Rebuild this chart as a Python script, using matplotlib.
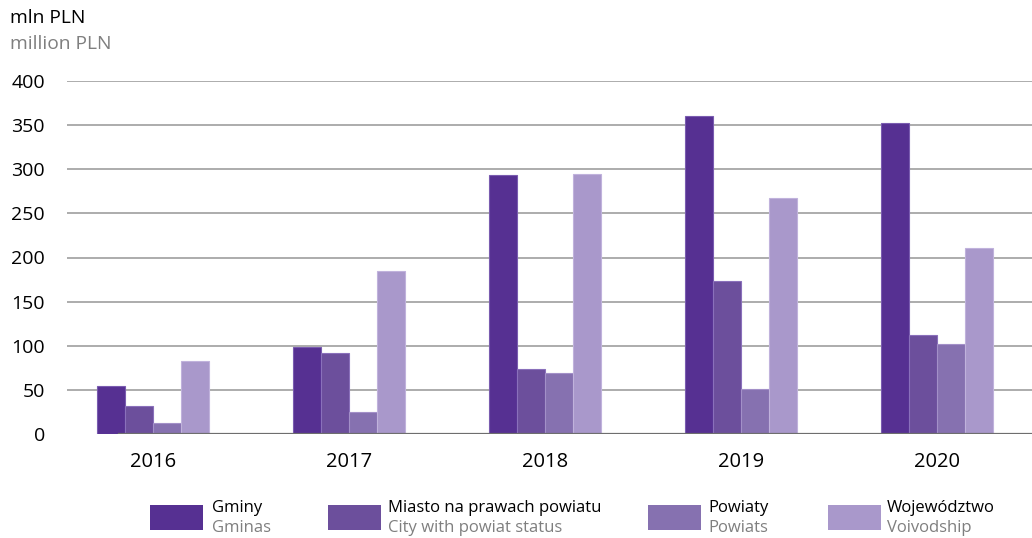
import matplotlib
matplotlib.use("Agg")
import matplotlib.pyplot as plt
from matplotlib.patches import Rectangle
import numpy as np

years = ["2016", "2017", "2018", "2019", "2020"]
series_pl = ["Gminy", "Miasto na prawach powiatu", "Powiaty", "Województwo"]
series_en = ["Gminas", "City with powiat status", "Powiats", "Voivodship"]
gminy = [54, 99, 293, 360, 352]
miasto = [32, 92, 74, 173, 112]
powiaty = [13, 25, 69, 51, 102]
wojewodztwo = [83, 185, 295, 267, 211]
yticks = [0, 50, 100, 150, 200, 250, 300, 350, 400]

colors = ["#563092", "#6c4f9c", "#8671b0", "#a998cb"]
edges = ["#7a5cb0", "#8a70bb", "#a390c8", "#c0b2dc"]

plt.rcParams['font.family'] = ['Open Sans', 'DejaVu Sans']
W, H = 1032, 538
fig = plt.figure(figsize=(W / 100, H / 100), dpi=100)
ax = fig.add_axes([67 / W, 1 - 434 / H, 1 - 67 / W, (434 - 81) / H])

x = np.arange(len(years))
w = 0.143
data = [gminy, miasto, powiaty, wojewodztwo]
for i, (vals, c, ec) in enumerate(zip(data, colors, edges)):
    ax.bar(x + (i - 1.5) * w, vals, width=w, color=c, edgecolor=ec, linewidth=0.8, zorder=3)

ax.set_ylim(0, 400)
ax.set_xlim(-0.44, 4.485)
ax.set_yticks(yticks)
ax.set_yticklabels([str(v) for v in yticks], fontsize=14)
ax.set_xticks(x)
ax.set_xticklabels(years, fontsize=14.5)
ax.tick_params(axis='both', length=0)
ax.tick_params(axis='y', pad=16)
ax.tick_params(axis='x', pad=13)
for v in yticks[1:]:
    ax.axhline(v, color="#a6a6a6", linewidth=1.3, zorder=1)
ax.axhline(0, xmin=(119 - 67) / (W - 67), xmax=1, color="#6e6e6e", linewidth=1.6, zorder=4)
for s in ax.spines.values():
    s.set_visible(False)

fig.text(10 / W, 1 - 18 / H, "mln PLN", fontsize=13.8, color="black", va="center", ha="left")
fig.text(10 / W, 1 - 44 / H, "million PLN", fontsize=13.8, color="#7f7f7f", va="center", ha="left")

sq_x = [150, 328, 648, 828]
tx_x = [212, 388, 708, 887]
for sx, tx, c, pl, en in zip(sq_x, tx_x, colors, series_pl, series_en):
    fig.patches.append(Rectangle((sx / W, 1 - 530 / H), 53 / W, 25 / H, transform=fig.transFigure,
                                 facecolor=c, edgecolor="none"))
    fig.text(tx / W, 1 - 508 / H, pl, fontsize=12, color="black", va="center", ha="left")
    fig.text(tx / W, 1 - 528 / H, en, fontsize=12, color="#7f7f7f", va="center", ha="left")

fig.savefig("out.png", dpi=100)
